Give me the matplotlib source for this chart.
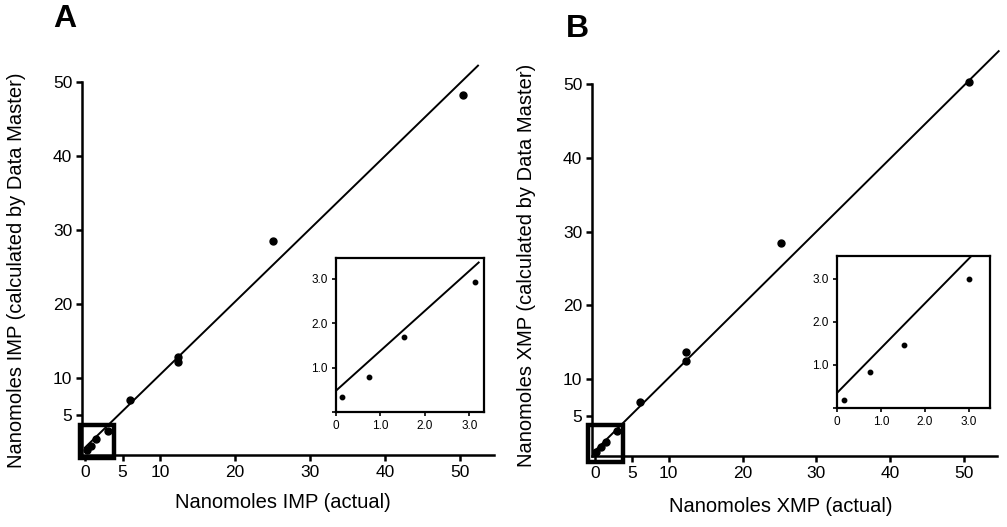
import matplotlib
matplotlib.use("Agg")
import matplotlib.pyplot as plt
import numpy as np
from matplotlib.patches import Rectangle

plt.rcParams['font.family'] = ['Liberation Sans', 'DejaVu Sans']

# ---------------- data ----------------
imp_actual = [0.2, 0.8, 1.5, 3.1, 6.0, 12.4, 12.4, 25.1, 50.4]
imp_calc = [0.3, 0.8, 1.7, 2.9, 7.0, 12.8, 12.2, 28.5, 48.3]
imp_fit = (0.985, 0.6, 52.4)          # slope, intercept, x end
imp_inset_actual = [0.14, 0.75, 1.53, 3.12]
imp_inset_calc = [0.33, 0.78, 1.68, 2.92]
imp_inset_fit = (0.90, 0.48, 3.21)

xmp_actual = [0.2, 0.8, 1.5, 3.0, 6.1, 12.3, 12.3, 25.2, 50.7]
xmp_calc = [0.2, 0.8, 1.5, 3.0, 6.9, 13.7, 12.5, 28.5, 50.3]
xmp_fit = (0.99, 0.3, 54.7)
xmp_inset_actual = [0.16, 0.75, 1.52, 3.0]
xmp_inset_calc = [0.19, 0.84, 1.47, 3.0]
xmp_inset_fit = (1.04, 0.35, 3.05)

main_xticks = [0, 5, 10, 20, 30, 40, 50]
main_yticks = [5, 10, 20, 30, 40, 50]
inset_ticks = [0, 1.0, 2.0, 3.0]
inset_xlabels = ["0", "1.0", "2.0", "3.0"]
inset_ylabels = ["", "1.0", "2.0", "3.0"]

W, H = 1007, 527
fig = plt.figure(figsize=(W / 100, H / 100), dpi=100)


def add_px_axes(l, r, t, b):
    return fig.add_axes([l / W, 1 - b / H, (r - l) / W, (b - t) / H])


def main_panel(box, x0px, y0px, sx, sy, xs, ys, fit, rect, letter, letter_pos,
               ylabel, ylabel_pos, xlabel, xlabel_pos):
    l, r, t, b = box
    ax = add_px_axes(l, r, t, b)
    ax.set_xlim((l - x0px) / sx, (r - x0px) / sx)
    ax.set_ylim((y0px - b) / sy, (y0px - t) / sy)
    ax.patch.set_alpha(0)
    for s in ['top', 'right']:
        ax.spines[s].set_visible(False)
    ax.spines['left'].set_bounds(ax.get_ylim()[0], 50)
    for s in ['left', 'bottom']:
        ax.spines[s].set_linewidth(1.8)
    ax.set_xticks(main_xticks)
    ax.set_yticks(main_yticks)
    ax.tick_params(direction='out', length=4, width=1.8, labelsize=12.5, pad=3)
    ax.plot(xs, ys, 'o', color='black', markersize=5)
    m, c, xe = fit
    xx = np.array([0, xe])
    ax.plot(xx, m * xx + c, color='black', lw=1.4, clip_on=False)
    rx0, ry0, rx1, ry1 = rect
    ax.add_patch(Rectangle((rx0, ry0), rx1 - rx0, ry1 - ry0, fill=False,
                           lw=3.2, ec='black', clip_on=False))
    fig.text(letter_pos[0] / W, 1 - letter_pos[1] / H, letter, fontsize=23,
             fontweight='bold', ha='left', va='center')
    fig.text(ylabel_pos[0] / W, 1 - ylabel_pos[1] / H, ylabel, rotation=90,
             fontsize=14.5, ha='center', va='center')
    fig.text(xlabel_pos[0] / W, 1 - xlabel_pos[1] / H, xlabel,
             fontsize=14.5, ha='center', va='center')
    return ax


def inset_panel(box, xmax, ymax, xs, ys, fit):
    l, r, t, b = box
    ax = add_px_axes(l, r, t, b)
    ax.set_xlim(0, xmax)
    ax.set_ylim(0, ymax)
    for s in ax.spines.values():
        s.set_linewidth(1.6)
    ax.set_xticks(inset_ticks)
    ax.set_xticklabels(inset_xlabels)
    ax.set_yticks(inset_ticks)
    ax.set_yticklabels(inset_ylabels)
    ax.tick_params(direction='out', length=3, width=1.2, labelsize=8.5, pad=3)
    ax.plot(xs, ys, 'o', color='black', markersize=3.2, clip_on=False)
    m, c, xe = fit
    xx = np.array([0, xe])
    ax.plot(xx, m * xx + c, color='black', lw=1.4)
    return ax


main_panel((82, 494, 58, 455), 85, 452, 7.5, 7.4, imp_actual, imp_calc, imp_fit,
           (-0.7, -0.8, 3.9, 3.7), "A", (53, 19),
           "Nanomoles IMP (calculated by Data Master)", (17, 270),
           "Nanomoles IMP (actual)", (283, 502))
inset_panel((336, 484, 258, 412), 3.33, 3.47, imp_inset_actual, imp_inset_calc,
            imp_inset_fit)

main_panel((592, 997, 45, 456), 595, 453, 7.38, 7.38, xmp_actual, xmp_calc, xmp_fit,
           (-0.9, -1.2, 3.8, 3.8), "B", (566, 29),
           "Nanomoles XMP (calculated by Data Master)", (526, 265),
           "Nanomoles XMP (actual)", (781, 507))
inset_panel((837, 990, 256, 408), 3.48, 3.53, xmp_inset_actual, xmp_inset_calc,
            xmp_inset_fit)

fig.savefig("out.png", dpi=100)
